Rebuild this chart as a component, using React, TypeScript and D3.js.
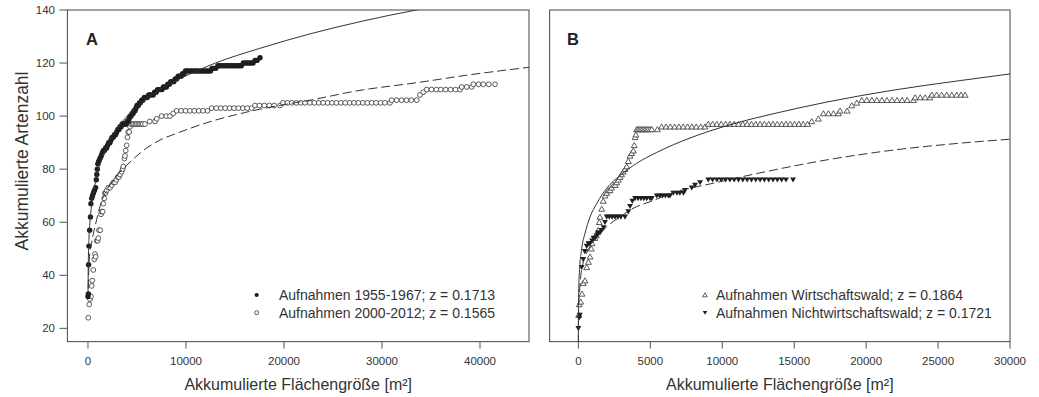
import * as d3 from "d3";

const yTicks = [20, 40, 60, 80, 100, 120, 140];
const xTicksA = [0, 10000, 20000, 30000, 40000];
const xTicksB = [0, 5000, 10000, 15000, 20000, 25000, 30000];

const labelsA = ["Aufnahmen 1955-1967; z = 0.1713", "Aufnahmen 2000-2012; z = 0.1565"];
const labelsB = ["Aufnahmen Wirtschaftswald; z = 0.1864", "Aufnahmen Nichtwirtschaftswald; z = 0.1721"];

// [akkumulierte Fläche m², Artenzahl]
const aOld: [number, number][] = [
  [0, 32], [40, 33], [60, 44], [100, 51], [170, 57], [250, 62], [300, 67], [380, 69], [460, 70], [560, 71],
  [650, 72], [780, 73], [850, 76], [900, 78], [950, 80], [1000, 82], [1100, 83], [1220, 84], [1350, 85], [1450, 86],
  [1560, 87], [1680, 87], [1800, 88], [1900, 88], [2000, 89], [2120, 90], [2240, 90], [2350, 91], [2460, 92], [2580, 92],
  [2700, 93], [2820, 93], [2930, 94], [3050, 95], [3160, 95], [3270, 96], [3380, 96], [3490, 97], [3600, 97], [3700, 97],
  [3800, 97], [3900, 97], [4000, 98], [4100, 98], [4200, 99], [4290, 100], [4400, 100], [4500, 101], [4600, 101], [4700, 102],
  [4800, 102], [4900, 103], [5000, 104], [5130, 104], [5250, 105], [5350, 105], [5480, 106], [5600, 106], [5750, 107], [5900, 107],
  [6050, 107], [6200, 108], [6350, 108], [6500, 108], [6650, 108], [6800, 109], [6950, 109], [7100, 110], [7250, 110], [7400, 110],
  [7550, 110], [7700, 111], [7850, 111], [8000, 111], [8150, 112], [8300, 112], [8450, 113], [8600, 113], [8750, 113], [8900, 114],
  [9050, 114], [9200, 115], [9350, 115], [9500, 115], [9650, 116], [9800, 116], [9950, 117], [10100, 117], [10300, 117], [10500, 117],
  [10700, 117], [10900, 117], [11100, 117], [11300, 117], [11500, 117], [11700, 117], [11900, 117], [12100, 117], [12300, 117], [12500, 117],
  [12650, 118], [12850, 118], [13050, 118], [13250, 119], [13450, 119], [13650, 119], [13850, 119], [14050, 119], [14250, 119], [14450, 119],
  [14650, 119], [14850, 119], [15050, 119], [15250, 119], [15450, 119], [15650, 119], [15850, 120], [16050, 120], [16250, 120], [16450, 120],
  [16650, 120], [16850, 120], [17050, 121], [17250, 121], [17550, 122],
];

const aNew: [number, number][] = [
  [30, 24], [130, 29], [200, 31], [300, 32], [380, 36], [440, 38], [540, 42], [640, 46], [710, 48], [790, 47],
  [890, 53], [990, 53], [1050, 54], [1120, 57], [1250, 57], [1330, 63], [1400, 64], [1500, 64], [1560, 67], [1650, 69],
  [1730, 71], [1800, 71], [1910, 72], [2070, 73], [2250, 73], [2420, 74], [2600, 75], [2760, 75], [2900, 76], [3030, 77],
  [3150, 77], [3270, 78], [3440, 79], [3540, 80], [3600, 81], [3710, 84], [3780, 85], [3850, 87], [3950, 89], [4030, 92],
  [4110, 94], [4200, 94], [4290, 96], [4400, 97], [4550, 97], [4700, 97], [4850, 97], [5000, 97], [5150, 97], [5300, 97],
  [5450, 97], [5600, 97], [5816, 97], [6300, 98], [6837, 98], [7010, 99], [7520, 100], [8000, 100], [8367, 100], [8704, 101],
  [9051, 102], [9500, 102], [9950, 102], [10400, 102], [10850, 102], [11300, 102], [11750, 102], [12200, 102], [12622, 103], [13100, 103],
  [13550, 103], [14000, 103], [14450, 103], [14900, 103], [15350, 103], [15800, 103], [16250, 103], [16704, 103], [17041, 104], [17500, 104],
  [18000, 104], [18500, 104], [19000, 104], [19592, 104], [19898, 105], [20350, 105], [20800, 105], [21250, 105], [21700, 105], [22150, 105],
  [22653, 105], [23100, 105], [23550, 105], [24000, 105], [24450, 105], [24900, 105], [25350, 105], [25800, 105], [26250, 105], [26700, 105],
  [27150, 105], [27600, 105], [28050, 105], [28500, 105], [28950, 105], [29400, 105], [29850, 105], [30300, 105], [30816, 105], [30990, 106],
  [31500, 106], [32000, 106], [32500, 106], [33000, 106], [33541, 106], [33878, 108], [34214, 109], [34561, 110], [35050, 110], [35550, 110],
  [36000, 110], [36500, 110], [37000, 110], [37500, 110], [37959, 110], [38133, 111], [38650, 111], [39153, 111], [39316, 112], [39850, 112],
  [40350, 112], [40900, 112], [41531, 112],
];

const aOldFit: [number, number][] = [
  [4, 33], [30, 44], [100, 54], [200, 60], [400, 67.5], [700, 74], [1050, 79.7], [1500, 84.5], [2000, 89], [3000, 95.5],
  [4000, 100], [5000, 103.5], [6500, 108], [8000, 111.5], [10000, 115.2], [13000, 120], [17500, 125.5], [22650, 131], [28000, 135.8], [33500, 140],
  [40000, 144], [45000, 147],
];

const aNewFit: [number, number][] = [
  [25, 35], [130, 46], [380, 52.5], [540, 55.5], [890, 61], [1150, 65], [1400, 68], [2000, 72.5], [2800, 77], [3780, 80.8],
  [5130, 85.5], [6000, 88], [7350, 91], [9050, 93.5], [12110, 97.5], [16190, 101.5], [20270, 104.5], [22650, 106], [27420, 109.5], [33540, 112.6],
  [39000, 115.6], [45000, 118.4],
];

const bW: [number, number][] = [
  [20, 25], [60, 29], [160, 30], [250, 33], [340, 37], [460, 38], [580, 43], [700, 45], [810, 47], [900, 50],
  [950, 52], [1150, 54], [1250, 55], [1380, 57], [1450, 60], [1500, 62], [1620, 65], [1730, 68], [1850, 70], [1970, 71],
  [2100, 72], [2200, 72], [2310, 73], [2450, 74], [2560, 74], [2660, 75], [2780, 76], [2890, 77], [3000, 78], [3120, 79],
  [3240, 80], [3360, 81], [3470, 83], [3590, 85], [3700, 86], [3820, 87], [3880, 89], [3940, 92], [4000, 93], [4050, 95],
  [4150, 95], [4250, 95], [4350, 95], [4450, 95], [4550, 95], [4650, 95], [4750, 95], [4850, 95], [4980, 95], [5100, 95],
  [5490, 95], [5790, 96], [6090, 96], [6390, 96], [6690, 96], [6990, 96], [7290, 96], [7590, 96], [7890, 96], [8190, 96],
  [8500, 96], [8800, 96], [9030, 97], [9330, 97], [9630, 97], [9930, 97], [10230, 97], [10530, 97], [10830, 97], [11130, 97],
  [11430, 97], [11730, 97], [12030, 97], [12330, 97], [12630, 97], [12930, 97], [13230, 97], [13530, 97], [13830, 97], [14130, 97],
  [14430, 97], [14730, 97], [15030, 97], [15330, 97], [15630, 97], [15930, 97], [16220, 98], [16680, 99], [17030, 101], [17380, 101],
  [17730, 101], [18070, 101], [18190, 102], [18680, 102], [19000, 104], [19350, 105], [19700, 106], [20050, 106], [20400, 106], [20750, 106],
  [21100, 106], [21450, 106], [21800, 106], [22150, 106], [22500, 106], [22850, 106], [23290, 106], [23410, 107], [23760, 107], [24100, 107],
  [24440, 107], [24570, 108], [24900, 108], [25250, 108], [25600, 108], [25950, 108], [26300, 108], [26600, 108], [26880, 108],
];

const bNW: [number, number][] = [
  [0, 20], [60, 24], [100, 25], [230, 43], [340, 46], [450, 49], [580, 51], [700, 52], [810, 52], [950, 53],
  [1050, 54], [1150, 54], [1270, 55], [1380, 56], [1500, 56], [1620, 57], [1750, 58], [1850, 60], [1970, 62], [2150, 62],
  [2350, 62], [2550, 62], [2750, 62], [2950, 62], [3240, 62], [3470, 64], [3590, 66], [3750, 68], [3940, 69], [4150, 69],
  [4350, 69], [4550, 69], [4750, 69], [4980, 69], [5100, 69], [5450, 70], [5650, 70], [5850, 70], [6050, 70], [6250, 70],
  [6370, 70], [6600, 71], [6850, 71], [7050, 71], [7300, 71], [7410, 72], [7880, 73], [8110, 74], [8460, 75], [9030, 76],
  [9330, 76], [9630, 76], [9930, 76], [10230, 76], [10530, 76], [10830, 76], [11130, 76], [11430, 76], [11730, 76], [12030, 76],
  [12330, 76], [12630, 76], [12930, 76], [13230, 76], [13530, 76], [13830, 76], [14130, 76], [14430, 76], [14920, 76],
];

const bWFit: [number, number][] = [
  [0, 14], [2, 22], [15, 31.6], [60, 40], [230, 50], [460, 55.8], [810, 62], [1270, 67], [1970, 72.8], [2890, 77.6],
  [4050, 82.2], [5440, 86.3], [6600, 89.2], [8920, 94], [11240, 97.8], [13320, 100.6], [17270, 105.3], [21900, 109.8], [26540, 113.4], [30000, 115.9],
];

const bNWFit: [number, number][] = [
  [0, 14], [5, 21], [30, 29], [100, 35.5], [340, 45], [580, 48.5], [1000, 52.5], [1620, 56.4], [1970, 58.3], [2550, 60.8],
  [3010, 62.4], [3590, 64.6], [4050, 65.9], [4980, 67.7], [6500, 71], [9380, 74.7], [13320, 79.4], [17270, 83.5], [21900, 87.2], [26540, 89.8],
  [30000, 91.3],
];

const FONT = "'Liberation Sans', Arial, sans-serif";
const INK = "#333";
const FRAME = "#555";

const y = d3.scaleLinear().domain([15, 140]).range([341.6, 10]);
const xA = d3.scaleLinear().domain([-2100, 45000]).range([67.4, 529]);
const xB = d3.scaleLinear().domain([-2000, 30000]).range([549.6, 1010]);

const triUp = d3.symbol(d3.symbolTriangle, 15)()!;
const triSmall = d3.symbol(d3.symbolTriangle, 9)()!;

function Frame({ x, ticks, clipId }: { x: d3.ScaleLinear<number, number>; ticks: number[]; clipId: string }) {
  const [x0, x1] = x.range();
  const [y0, y1] = y.range();
  return (
    <g>
      <clipPath id={clipId}>
        <rect x={x0} y={y1} width={x1 - x0} height={y0 - y1} />
      </clipPath>
      <rect x={x0} y={y1} width={x1 - x0} height={y0 - y1} fill="none" stroke={FRAME} strokeWidth={1.1} />
      {ticks.map((t) => (
        <g key={t}>
          <line x1={x(t)} x2={x(t)} y1={y0} y2={y0 + 7} stroke={FRAME} strokeWidth={1} />
          <text x={x(t)} y={y0 + 23} textAnchor="middle" fontSize={11.5} fill={INK}>
            {t}
          </text>
        </g>
      ))}
      <text x={(x0 + x1) / 2} y={390} textAnchor="middle" fontSize={16} fill={INK}>
        Akkumulierte Flächengröße [m²]
      </text>
    </g>
  );
}

function fitPath(x: d3.ScaleLinear<number, number>, data: [number, number][]) {
  return d3
    .line<[number, number]>()
    .x((d) => x(d[0]))
    .y((d) => y(d[1]))
    .curve(d3.curveMonotoneX)(data)!;
}

export default function App() {
  return (
    <svg
      width={1039}
      height={397}
      style={{ position: "absolute", left: 0, top: 0, background: "#fff" }}
      fontFamily={FONT}
    >
      <rect width={1039} height={397} fill="#fff" />

      {/* Panel A */}
      <Frame x={xA} ticks={xTicksA} clipId="clipA" />
      {yTicks.map((t) => (
        <g key={t}>
          <line x1={59.4} x2={67.4} y1={y(t)} y2={y(t)} stroke={FRAME} strokeWidth={1} />
          <text x={55} y={y(t)} dy="0.35em" textAnchor="end" fontSize={11.5} fill={INK}>
            {t}
          </text>
        </g>
      ))}
      <text transform="translate(28,161) rotate(-90)" textAnchor="middle" fontSize={17.5} fill={INK}>
        Akkumulierte Artenzahl
      </text>
      <text x={86} y={45} fontSize={16.5} fontWeight="bold" fill="#222">A</text>

      <g clipPath="url(#clipA)">
        {aNew.map((d, i) => (
          <circle key={"n" + i} cx={xA(d[0])} cy={y(d[1])} r={2.4} fill="#fff" stroke="#333" strokeWidth={0.8} />
        ))}
        {aOld.map((d, i) => (
          <circle key={"o" + i} cx={xA(d[0])} cy={y(d[1])} r={2.7} fill="#1e1e1e" />
        ))}
        <path d={fitPath(xA, aOldFit)} fill="none" stroke="#333" strokeWidth={1} />
        <path d={fitPath(xA, aNewFit)} fill="none" stroke="#333" strokeWidth={1} strokeDasharray="9,4" />
      </g>

      <circle cx={256.7} cy={295} r={2.1} fill="#1e1e1e" />
      <circle cx={256.7} cy={312.7} r={2} fill="#fff" stroke="#333" strokeWidth={0.8} />
      {labelsA.map((l, i) => (
        <text key={l} x={279} y={295 + i * 17.7} dy="0.35em" fontSize={14} fill={INK}>
          {l}
        </text>
      ))}

      {/* Panel B */}
      <Frame x={xB} ticks={xTicksB} clipId="clipB" />
      <text x={567} y={45} fontSize={16.5} fontWeight="bold" fill="#222">B</text>

      <g clipPath="url(#clipB)">
        {bW.map((d, i) => (
          <path
            key={"w" + i}
            d={triUp}
            transform={`translate(${xB(d[0])},${y(d[1]) + 0.6})`}
            fill="#fff"
            stroke="#333"
            strokeWidth={0.8}
          />
        ))}
        {bNW.map((d, i) => (
          <path key={"nw" + i} d={triUp} transform={`translate(${xB(d[0])},${y(d[1]) - 0.6}) rotate(180)`} fill="#1e1e1e" />
        ))}
        <path d={fitPath(xB, bWFit)} fill="none" stroke="#333" strokeWidth={1} />
        <path d={fitPath(xB, bNWFit)} fill="none" stroke="#333" strokeWidth={1} strokeDasharray="9,4" />
      </g>

      <path d={triSmall} transform="translate(705,295.5)" fill="#fff" stroke="#333" strokeWidth={0.8} />
      <path d={triSmall} transform="translate(705,312.2) rotate(180)" fill="#1e1e1e" />
      {labelsB.map((l, i) => (
        <text key={l} x={716} y={295 + i * 17.7} dy="0.35em" fontSize={14} fill={INK}>
          {l}
        </text>
      ))}
    </svg>
  );
}
